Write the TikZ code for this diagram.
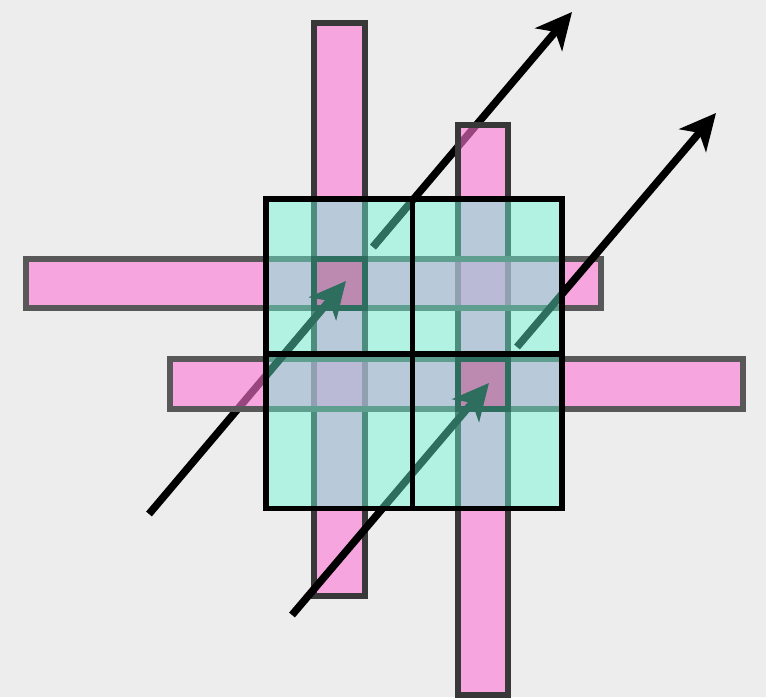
\documentclass[tikz,border=0pt]{standalone}
\usetikzlibrary{arrows.meta}
\definecolor{paper}{RGB}{237,237,237}
\definecolor{barpink}{RGB}{255,117,212}
\definecolor{vborder}{RGB}{56,56,56}
\definecolor{hborder}{RGB}{88,88,88}
\definecolor{hotpink}{RGB}{255,50,150}
\definecolor{tilecyan}{RGB}{105,249,213}
\tikzset{
  vbar/.style={fill=barpink, fill opacity=0.6, draw=vborder, line width=6pt},
  hbar/.style={fill=barpink, fill opacity=0.6, draw=hborder, line width=6pt},
  hotcell/.style={fill=hotpink, draw=black, line width=6pt},
  tile/.style={fill=tilecyan, fill opacity=0.443, draw=black, line width=5.5pt},
  ray/.style={draw=black, line width=7.5pt, -{Stealth[length=36pt,width=35pt,inset=10pt]}}
}
\begin{document}
\begin{tikzpicture}[x=1pt,y=-1pt]
\useasboundingbox (0,0) rectangle (766,697);
\fill[paper] (0,0) rectangle (766,697);
% arrow endpoints
\coordinate (a0) at (149,514);
\coordinate (a1) at (346,281);
\coordinate (b0) at (373,247);
\coordinate (b1) at (572,12);
\coordinate (c0) at (292,615);
\coordinate (c1) at (489,383);
\coordinate (d0) at (517,347);
\coordinate (d1) at (716,113);
% arrows passing under the bars
\draw[ray] (a0) -- (a1);
\draw[ray] (b0) -- (b1);
% bars
\draw[vbar] (314,23) rectangle (364.5,596);
\draw[vbar] (458,125) rectangle (508.3,695);
\draw[hbar] (25.5,258.5) rectangle (600.5,308.3);
\draw[hbar] (169.5,359) rectangle (743,409);
% highlighted cells
\draw[hotcell] (314,258.5) rectangle (364.5,308.3);
\draw[hotcell] (458,359) rectangle (508.3,409);
% arrows redrawn on top inside the tile area
\begin{scope}
\clip (265.8,199) rectangle (561.8,508.5);
\draw[ray] (a0) -- (a1);
\draw[ray] (b0) -- (b1);
\end{scope}
% arrows passing over the bars
\draw[ray] (c0) -- (c1);
\draw[ray] (d0) -- (d1);
% tiles
\draw[tile] (265.8,199) rectangle (412.5,353.8);
\draw[tile] (412.5,199) rectangle (561.8,353.8);
\draw[tile] (265.8,353.8) rectangle (412.5,508.5);
\draw[tile] (412.5,353.8) rectangle (561.8,508.5);
\end{tikzpicture}
\end{document}
